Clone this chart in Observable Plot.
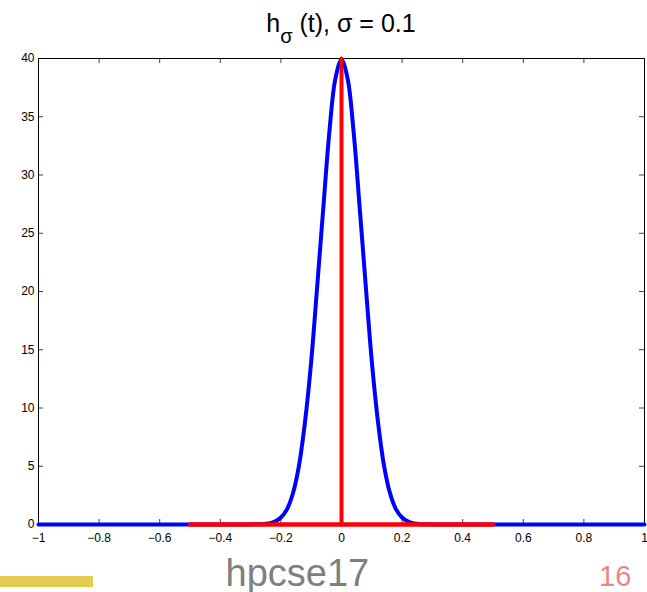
<!DOCTYPE html>
<html><head><meta charset="utf-8">
<script src="https://cdn.jsdelivr.net/npm/d3@7"></script>
<script src="https://cdn.jsdelivr.net/npm/@observablehq/plot@0.6"></script>
<style>
body{margin:0;background:#fff;}
#wrap{position:relative;width:647px;height:592px;font-family:"Liberation Sans",Arial,Helvetica,sans-serif;overflow:hidden;background:#fff}
#chart{position:absolute;left:0;top:0}
#chart svg text{font-size:12px !important;font-family:"Liberation Sans",Arial,Helvetica,sans-serif !important}
#title{position:absolute;left:191px;width:300px;top:10.5px;text-align:center;font-size:25px;line-height:25px;color:#000;white-space:nowrap}
#title .sub{font-size:20px;line-height:0;vertical-align:-11px}
#bar{position:absolute;left:0;top:576px;width:93px;height:11px;background:#E5CB4E}
#course{position:absolute;left:225.5px;top:553.5px;font-size:38px;line-height:38px;color:#7f7f7f;white-space:nowrap}
#page{position:absolute;left:599px;top:562px;font-size:29px;line-height:29px;color:#E8878A;white-space:nowrap}
</style>
</head><body>
<div id="wrap">
  <div id="chart"></div>
  <div id="title">h<span class="sub">σ</span> (t), σ = 0.1</div>
  <div id="bar"></div>
  <div id="course">hpcse17</div>
  <div id="page">16</div>
</div>
<script>
// tick values
const xTicks = [-1, -0.8, -0.6, -0.4, -0.2, 0, 0.2, 0.4, 0.6, 0.8, 1];
const yTicks = [0, 5, 10, 15, 20, 25, 30, 35, 40];

// blue curve h_sigma(t)
const curveT = [-1, -0.6, -0.4, -0.3, -0.26, -0.24, -0.22, -0.2, -0.18, -0.16, -0.14, -0.12, -0.1, -0.08, -0.06, -0.04, -0.02, 0,
                0.02, 0.04, 0.06, 0.08, 0.1, 0.12, 0.14, 0.16, 0.18, 0.2, 0.22, 0.24, 0.26, 0.3, 0.4, 0.6, 1];
const curveH = [0, 0, 0, 0.01, 0.03, 0.09, 0.25, 0.6, 1.3, 2.7, 5.1, 8.9, 14.0, 20.5, 27.2, 33.7, 38.3, 39.9,
                38.3, 33.7, 27.2, 20.5, 14.0, 8.9, 5.1, 2.7, 1.3, 0.6, 0.25, 0.09, 0.03, 0.01, 0, 0, 0];

// red box (base) and delta spike
const boxT = [-0.5, 0.5];
const boxH = [0, 0];
const spikeT = [0, 0];
const spikeH = [0, 40];

const W = 647, H = 592;
const mL = 38, mR = 3, mT = 58, mB = 68;
const tickLen = 5;
const innerW = W - mL - mR, innerH = H - mT - mB;

const curve = curveT.map((t, i) => ({t, h: curveH[i]}));
const box = boxT.map((t, i) => ({t, h: boxH[i]}));
const spike = spikeT.map((t, i) => ({t, h: spikeH[i]}));

const fmt = d => d < 0 ? "\u2212" + String(-d) : String(d);

const chart = Plot.plot({
  width: W, height: H,
  marginLeft: mL, marginRight: mR, marginTop: mT, marginBottom: mB,
  style: {fontFamily: '"Liberation Sans", Arial, Helvetica, sans-serif', fontSize: "12px", color: "#000", background: "#fff"},
  x: {domain: [-1, 1]},
  y: {domain: [0, 40]},
  marks: [
    Plot.frame({stroke: "#000", strokeWidth: 1}),
    Plot.tickX(xTicks, {x: d => d, insetTop: innerH - tickLen, stroke: "#000", strokeOpacity: 0.75}),
    Plot.tickX(xTicks, {x: d => d, insetBottom: innerH - tickLen, stroke: "#000", strokeOpacity: 0.75}),
    Plot.tickY(yTicks, {y: d => d, insetRight: innerW - tickLen, stroke: "#000", strokeOpacity: 0.75}),
    Plot.tickY(yTicks, {y: d => d, insetLeft: innerW - tickLen, stroke: "#000", strokeOpacity: 0.75}),
    Plot.axisX(xTicks, {anchor: "bottom", tickSize: 0, tickPadding: 9, tickFormat: fmt, label: null, fontSize: 12}),
    Plot.axisY(yTicks, {anchor: "left", tickSize: 0, tickPadding: 4, tickFormat: fmt, label: null, fontSize: 12}),
    Plot.line(curve, {x: "t", y: "h", stroke: "#0000ff", strokeWidth: 4, curve: "catmull-rom"}),
    Plot.line(box, {x: "t", y: "h", stroke: "#ff0000", strokeWidth: 4.5}),
    Plot.line(spike, {x: "t", y: "h", stroke: "#ff0000", strokeWidth: 4})
  ]
});
document.getElementById("chart").appendChild(chart);
</script>
</body></html>
